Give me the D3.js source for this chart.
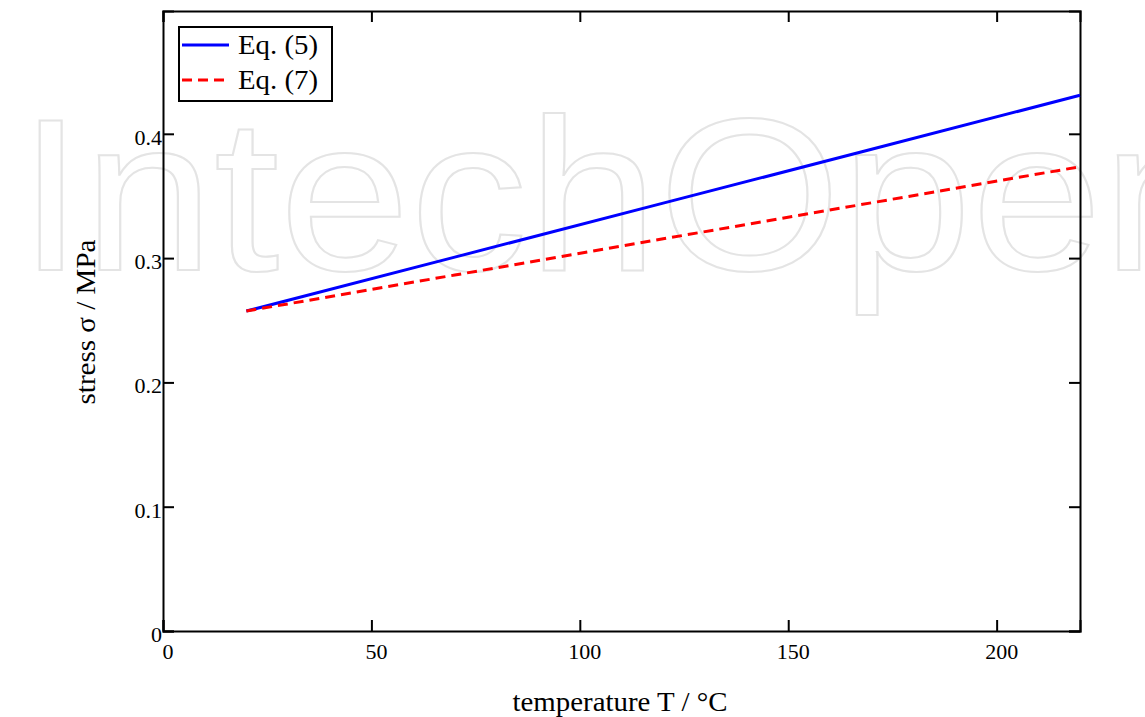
<!DOCTYPE html>
<html>
<head>
<meta charset="utf-8">
<script src="https://cdn.jsdelivr.net/npm/d3@7"></script>
<style>
  body { margin: 0; background: #fff; }
  svg { display: block; }
  text { font-family: "Liberation Serif", "Times New Roman", serif; }
</style>
</head>
<body>
<svg id="chart" width="1145" height="717"></svg>
<script>
// ---- data ----
const temperature = [20, 70, 120, 170, 220];
const eq5 = [0.2574, 0.3008, 0.3442, 0.3876, 0.4310];
const eq7 = [0.2574, 0.2864, 0.3155, 0.3445, 0.3735];
const xTicks = [0, 50, 100, 150, 200];
const yTicks = [0, 0.1, 0.2, 0.3, 0.4];
const yTickLabels = ["0", "0.1", "0.2", "0.3", "0.4"];
const seriesNames = ["Eq. (5)", "Eq. (7)"];
const seriesColors = ["#0000ff", "#ff0000"];

(function () {
const svg = d3.select("#chart");
const pLeft = 163, pRight = 1080, pTop = 11, pBottom = 631;

const x = d3.scaleLinear().domain([0, 220]).range([pLeft, pRight]);
const y = d3.scaleLinear().domain([0, 0.4988]).range([pBottom, pTop]);

// watermark
svg.append("text")
  .attr("x", 18).attr("y", 270)
  .attr("textLength", 1215).attr("lengthAdjust", "spacingAndGlyphs")
  .style("font-family", "'Liberation Sans', Arial, sans-serif")
  .style("font-size", "218px")
  .attr("fill", "none").attr("stroke", "#e4e4e4").attr("stroke-width", 2)
  .text("IntechOpen");

// axes with inward ticks on all sides
const tl = 11;
const gB = svg.append("g").attr("transform", `translate(0,${pBottom})`)
  .call(d3.axisBottom(x).tickValues(xTicks).tickSize(-tl).tickFormat(""));
const gT = svg.append("g").attr("transform", `translate(0,${pTop})`)
  .call(d3.axisTop(x).tickValues(xTicks).tickSize(-tl).tickFormat(""));
const gL = svg.append("g").attr("transform", `translate(${pLeft},0)`)
  .call(d3.axisLeft(y).tickValues(yTicks).tickSize(-tl).tickFormat(""));
const gR = svg.append("g").attr("transform", `translate(${pRight},0)`)
  .call(d3.axisRight(y).tickValues(yTicks).tickSize(-tl).tickFormat(""));
[gB, gT, gL, gR].forEach(g => {
  g.select(".domain").attr("stroke", "#000").attr("stroke-width", 2);
  g.selectAll(".tick line").attr("stroke", "#000").attr("stroke-width", 2);
});

// tick labels
svg.append("g").selectAll("text").data(xTicks).join("text")
  .attr("x", d => x(d) + 5).attr("y", pBottom + 28)
  .attr("text-anchor", "middle").style("font-size", "22px").text(d => d);
svg.append("g").selectAll("text").data(yTicks).join("text")
  .attr("x", pLeft - 1).attr("y", d => y(d) + 11)
  .attr("text-anchor", "end").style("font-size", "22px").text((d, i) => yTickLabels[i]);

// axis titles
svg.append("text").attr("x", 620).attr("y", 711)
  .attr("text-anchor", "middle").style("font-size", "28px")
  .attr("textLength", 215).attr("lengthAdjust", "spacingAndGlyphs")
  .text("temperature T / °C");
svg.append("text")
  .attr("transform", "translate(95,322) rotate(-90)")
  .attr("text-anchor", "middle").style("font-size", "28px")
  .attr("textLength", 165).attr("lengthAdjust", "spacingAndGlyphs")
  .text("stress σ / MPa");

// lines
const line = d3.line().x((d, i) => x(temperature[i])).y(d => y(d));
svg.append("path").datum(eq5).attr("d", line)
  .attr("fill", "none").attr("stroke", seriesColors[0]).attr("stroke-width", 3);
svg.append("path").datum(eq7).attr("d", line)
  .attr("fill", "none").attr("stroke", seriesColors[1]).attr("stroke-width", 3)
  .attr("stroke-dasharray", "10,6");

// legend
const lg = svg.append("g");
lg.append("rect").attr("x", 179).attr("y", 27).attr("width", 153).attr("height", 74)
  .attr("fill", "#fff").attr("stroke", "#000").attr("stroke-width", 2);
seriesNames.forEach((name, i) => {
  const yy = 45 + i * 35;
  lg.append("line").attr("x1", 182).attr("x2", 229).attr("y1", yy).attr("y2", yy)
    .attr("stroke", seriesColors[i]).attr("stroke-width", 3)
    .attr("stroke-dasharray", i === 1 ? "10,6" : null);
  lg.append("text").attr("x", 238).attr("y", yy + 9)
    .style("font-size", "27px")
    .attr("textLength", 80).attr("lengthAdjust", "spacingAndGlyphs")
    .text(name);
});
})();
</script>
</body>
</html>
